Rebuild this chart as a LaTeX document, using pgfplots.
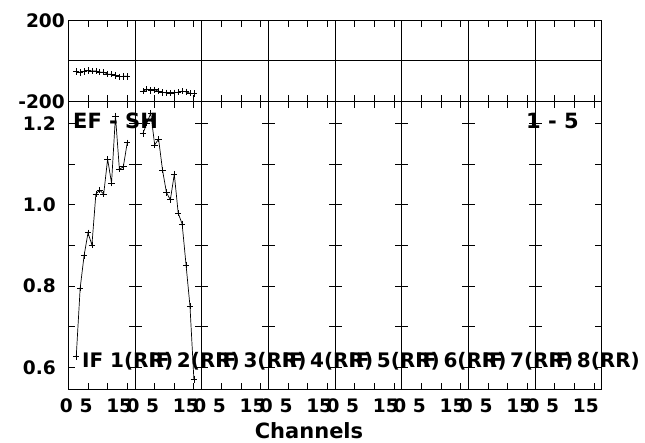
\documentclass[border=0pt]{standalone}
\usepackage{fontspec}
\setmainfont{DejaVu Sans}
\usepackage{pgfplots}
\pgfplotsset{compat=1.18}
\newcommand\tickfont{\fontsize{18.6}{20}\selectfont\bfseries}
\newcommand\labfont{\fontsize{21}{23}\selectfont\bfseries}
\newcommand\iffont{\fontsize{20}{22}\selectfont\bfseries}
\pgfplotsset{
  panel/.style={scale only axis, width=66.67pt, xmin=0, xmax=17,
    xtick={0,5,10,15}, xticklabels={},
    tick align=inside, major tick length=6.5pt,
    axis line style={line width=1pt},
    every tick/.style={line width=0.8pt, black},
    tick label style={font=\tickfont},
    /pgf/number format/assume math mode=true},
  toprow/.style={panel, height=80.6pt, ymin=-200, ymax=200,
    ytick={-200,200}, yticklabels={},
    extra y ticks={0}, extra y tick labels={},
    extra y tick style={grid=major, major grid style={black, line width=1pt}, major tick length=0pt}},
  botrow/.style={panel, height=288.7pt, ymin=0.545, ymax=1.254,
    ytick={0.6,0.7,0.8,0.9,1.0,1.1,1.2}, yticklabels={},
    xticklabels={0,5,,\hspace*{-12pt}15}, xticklabel style={yshift=-5pt, xshift=-2pt}},
  dat/.style={black, line width=0.7pt, mark=+, mark size=3.2pt, mark options={line width=0.7pt, solid}},
}
\begin{document}
\begin{tikzpicture}
\useasboundingbox (0pt,0pt) rectangle (645pt,443pt);
% ---------- top row (phase) ----------
\begin{axis}[toprow, at={(68.4pt,341.7pt)}, anchor=south west, yticklabels={-200,200}]
\addplot[dat] coordinates {(2,-52) (3,-57) (4,-52) (5,-48) (6,-50) (7,-50) (8,-55) (9,-56) (10,-65) (11,-66) (12,-72) (13,-78) (14,-76) (15,-76)};
\end{axis}
\begin{axis}[toprow, at={(135.07pt,341.7pt)}, anchor=south west]
\addplot[dat] coordinates {(2,-150) (3,-140) (4,-147) (5,-143) (6,-150) (7,-156) (8,-158) (9,-160) (10,-158) (11,-155) (12,-150) (13,-153) (14,-160) (15,-162)};
\end{axis}
\foreach \i in {2,...,7}{
\begin{axis}[toprow, at={({(68.4+66.67*\i)*1pt},341.7pt)}, anchor=south west]
\end{axis}
}
% ---------- bottom row (amplitude) ----------
\begin{axis}[botrow, at={(68.4pt,53pt)}, anchor=south west,
  yticklabels={0.6,,0.8,,1.0,,1.2}, yticklabel style={xshift=-9pt}]
\addplot[dat] coordinates {(2,0.627) (3,0.795) (4,0.875) (5,0.931) (6,0.901) (7,1.026) (8,1.036) (9,1.026) (10,1.112) (11,1.053) (12,1.218) (13,1.087) (14,1.093) (15,1.152)};
\end{axis}
\begin{axis}[botrow, at={(135.07pt,53pt)}, anchor=south west]
\addplot[dat] coordinates {(2,1.175) (3,1.200) (4,1.225) (5,1.147) (6,1.161) (7,1.085) (8,1.030) (9,1.012) (10,1.075) (11,0.979) (12,0.953) (13,0.852) (14,0.751) (15,0.571)};
\end{axis}
\foreach \i in {2,...,7}{
\begin{axis}[botrow, at={({(68.4+66.67*\i)*1pt},53pt)}, anchor=south west]
\end{axis}
}
% ---------- labels ----------
\foreach \i in {1,...,8}{
  \node[anchor=base west, inner sep=0pt, font=\iffont] at ({(68.4+66.67*\i-66.67+13.5)*1pt},75.5pt) {IF \i(RR)};
}
\node[anchor=base west, inner sep=0pt, font=\labfont] at (73pt,314.7pt) {EF - SH};
\node[anchor=base west, inner sep=0pt, font=\labfont] at (526pt,314.7pt) {1 - 5};
\node[anchor=base, inner sep=0pt, font=\labfont] at (309pt,4pt) {Channels};
\end{tikzpicture}
\end{document}
